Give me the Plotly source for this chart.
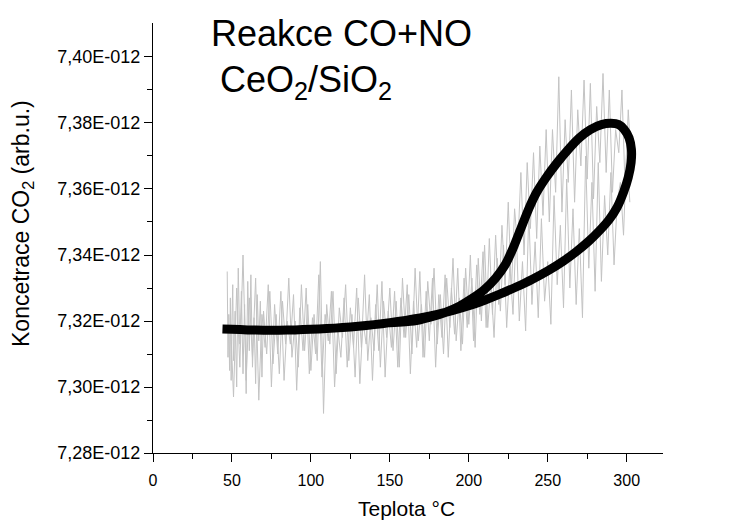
import plotly.graph_objects as go

# ---- data (y values in units of 1E-12) ----
heat_x = [47, 47.5, 48, 48.5, 49, 49.5, 50, 50.5, 51, 52, 53, 54, 55, 56, 57, 58, 59, 60, 61, 62, 63, 64, 65, 66, 67, 68, 69, 70,
          72, 74, 76, 78, 80, 82, 84, 86, 88, 90, 92, 94, 96, 98, 100, 102, 104, 106, 108, 110, 112, 114, 116, 118, 120,
          122, 124, 126, 128, 130, 132, 134, 136, 138, 140, 142, 144, 146, 148, 150, 152, 154, 156, 158, 160, 162, 164,
          166, 168, 170, 172, 174, 176, 178, 180, 182, 184, 186, 188, 190, 192, 194, 196, 198, 200, 202, 204, 206, 208,
          210, 212, 214, 216, 218, 220, 222, 224, 226, 228, 230, 232, 234, 236, 238, 240, 242, 244, 246, 248, 250, 252,
          254, 256, 258, 260, 262, 264, 266, 268, 270, 272, 274, 276, 278, 280, 282, 284, 286, 288, 290, 292, 294,
          296, 298, 300, 302]
heat_y = [7.335, 7.309, 7.322, 7.305, 7.327, 7.302, 7.320, 7.331, 7.308, 7.323, 7.300, 7.336, 7.313, 7.329, 7.304, 7.325,
          7.298, 7.332, 7.311, 7.334, 7.306, 7.321, 7.301, 7.328, 7.314, 7.326, 7.303, 7.323,
          7.310, 7.329, 7.307, 7.322, 7.304, 7.326, 7.313, 7.333, 7.309, 7.320, 7.306, 7.331, 7.311, 7.325, 7.305, 7.322,
          7.308, 7.338, 7.292, 7.325, 7.313, 7.329, 7.304, 7.324, 7.315, 7.331, 7.308, 7.322, 7.303, 7.327, 7.312, 7.334,
          7.308, 7.321, 7.311, 7.331, 7.306, 7.326, 7.315, 7.330, 7.311, 7.326, 7.306, 7.333, 7.315, 7.328, 7.310, 7.336,
          7.314, 7.325, 7.309, 7.332, 7.319, 7.336, 7.313, 7.328, 7.310, 7.333, 7.318, 7.339, 7.314, 7.327, 7.313, 7.336,
          7.319, 7.333, 7.312, 7.339, 7.320, 7.343, 7.318, 7.332, 7.315, 7.339, 7.323, 7.343, 7.318, 7.337, 7.322, 7.348,
          7.320, 7.338, 7.317, 7.353, 7.325, 7.344, 7.321, 7.351, 7.326, 7.338, 7.319, 7.358, 7.331, 7.349, 7.324, 7.363,
          7.330, 7.354, 7.325, 7.348, 7.321, 7.370, 7.336, 7.362, 7.329, 7.368, 7.332, 7.358, 7.340, 7.365, 7.337, 7.356,
          7.362, 7.346, 7.372, 7.356]

cool_x = [303, 301, 299, 297, 295,
          293, 291, 289, 287, 285, 283, 281, 279, 277, 275, 273, 271, 269, 267, 265, 263, 261, 259, 257, 255, 253, 251,
          249, 247, 245, 243, 241, 239, 237, 235, 233, 231, 229, 227, 225, 223, 221, 219, 217, 215, 213, 211, 209, 207,
          205, 203, 201, 199, 197, 195, 193, 191, 189, 187, 185, 183, 181, 179, 177, 175, 173, 171, 169, 167, 165, 163,
          161, 159, 157, 155, 153, 151, 149, 147, 145, 143, 141, 139, 137, 135, 133, 131, 129, 127, 125, 123, 121, 119,
          117, 115, 113, 111, 109, 107, 105, 103, 101, 99, 97, 95, 93, 91, 89, 87, 85, 83, 81, 79, 77, 75, 73, 71, 69,
          67, 65, 63, 61, 59, 57, 55, 53, 51, 49]
cool_y = [7.367, 7.384, 7.360, 7.390, 7.371,
          7.378, 7.359, 7.390, 7.365, 7.395, 7.368, 7.385, 7.357, 7.392, 7.363, 7.393, 7.367, 7.384, 7.356, 7.390, 7.362,
          7.381, 7.353, 7.394, 7.359, 7.378, 7.350,
          7.378, 7.352, 7.373, 7.345, 7.371, 7.348, 7.368, 7.340, 7.365, 7.342,
          7.354, 7.329, 7.356, 7.331, 7.349, 7.325, 7.346, 7.322, 7.345, 7.318, 7.341, 7.322, 7.337, 7.314, 7.340, 7.318,
          7.333, 7.311, 7.336, 7.316, 7.330, 7.309, 7.334, 7.315, 7.328, 7.306, 7.333, 7.314, 7.329, 7.309, 7.335, 7.312,
          7.326, 7.304, 7.331, 7.315, 7.327, 7.306, 7.329, 7.312, 7.323, 7.303, 7.332, 7.311, 7.325, 7.302, 7.328, 7.313,
          7.320, 7.301, 7.330, 7.312, 7.324, 7.306, 7.327, 7.309, 7.318, 7.300, 7.329, 7.314, 7.322, 7.303, 7.334, 7.310,
          7.321, 7.304, 7.330, 7.311, 7.324, 7.299, 7.328, 7.313, 7.320, 7.302, 7.329, 7.310, 7.325, 7.300, 7.331, 7.312,
          7.322, 7.296, 7.333, 7.309, 7.327, 7.302, 7.340, 7.306, 7.330, 7.297, 7.321]

smooth_x = [44, 50, 60, 70, 80, 90, 100, 110, 120, 130, 140, 150, 160, 170, 180, 190, 200, 210, 220, 230, 240, 250, 260,
            268, 276, 283, 289, 294, 298, 301, 302.8, 303, 301.5, 298.5, 295,
            290, 284, 277, 270, 263, 256, 249, 243, 238, 233, 228, 223, 217, 210, 202, 194, 185, 175, 165, 150]
smooth_y = [7.3176, 7.3175, 7.3173, 7.3172, 7.3172, 7.3173, 7.3175, 7.3177, 7.3180, 7.3184, 7.3189, 7.3195, 7.3202,
            7.3210, 7.3220, 7.3232, 7.3246, 7.3263, 7.3282, 7.3303, 7.3326, 7.3352, 7.3382, 7.3410, 7.3442, 7.3475,
            7.3508, 7.3545, 7.3590, 7.3635, 7.3680, 7.3720, 7.3755, 7.3780, 7.3795,
            7.3799, 7.3795, 7.3780, 7.3755, 7.3720, 7.3680, 7.3635, 7.3590, 7.3540, 7.3480, 7.3420, 7.3370, 7.3330,
            7.3296, 7.3268, 7.3245, 7.3226, 7.3211, 7.3200, 7.3195]

y_tick_vals = [7.28, 7.30, 7.32, 7.34, 7.36, 7.38, 7.40]
y_tick_text = ["7,28E-012", "7,30E-012", "7,32E-012", "7,34E-012", "7,36E-012", "7,38E-012", "7,40E-012"]
x_tick_vals = [0, 50, 100, 150, 200, 250, 300]

E = 1e-12
FONT = "Liberation Sans, Arial, sans-serif"

fig = go.Figure()
fig.add_trace(go.Scatter(x=heat_x, y=[v * E for v in heat_y], mode="lines",
                         line=dict(color="#c3c3c3", width=1), showlegend=False, hoverinfo="skip"))
fig.add_trace(go.Scatter(x=cool_x, y=[v * E for v in cool_y], mode="lines",
                         line=dict(color="#c3c3c3", width=1), showlegend=False, hoverinfo="skip"))
fig.add_trace(go.Scatter(x=smooth_x, y=[v * E for v in smooth_y], mode="lines",
                         line=dict(color="black", width=9, shape="spline", smoothing=0.6),
                         showlegend=False))

fig.update_layout(
    width=738, height=521,
    margin=dict(l=153, r=75, t=23, b=68),
    paper_bgcolor="white", plot_bgcolor="white",
    font=dict(family=FONT, color="black"),
)
fig.update_xaxes(
    range=[0, 323], tickvals=x_tick_vals, ticktext=[str(v) for v in x_tick_vals],
    showline=True, linecolor="black", linewidth=1, mirror=False,
    ticks="outside", ticklen=8, tickwidth=1, tickcolor="black",
    minor=dict(tickvals=[25, 75, 125, 175, 225, 275], ticks="outside", ticklen=5, tickcolor="black"),
    showgrid=False, zeroline=False,
    tickfont=dict(size=16, family=FONT), ticklabelstandoff=5,
)
fig.update_yaxes(
    range=[7.28 * E, 7.4103 * E], tickvals=[v * E for v in y_tick_vals], ticktext=y_tick_text,
    showline=True, linecolor="black", linewidth=1, mirror=False,
    ticks="outside", ticklen=8, tickwidth=1, tickcolor="black",
    minor=dict(tickvals=[v * E for v in [7.29, 7.31, 7.33, 7.35, 7.37, 7.39]], ticks="outside", ticklen=5,
               tickcolor="black"),
    showgrid=False, zeroline=False,
    tickfont=dict(size=18, family=FONT),
)

# axis titles
fig.add_annotation(text="Teplota °C", xref="paper", yref="paper", x=0.498, y=-0.128,
                   xanchor="center", yanchor="middle", showarrow=False, font=dict(size=21, family=FONT))
fig.add_annotation(text="Koncetrace CO<sub>2</sub> (arb.u.)", xref="paper", yref="paper", x=-0.2559, y=0.5337,
                   xanchor="center", yanchor="middle", textangle=-90, showarrow=False,
                   font=dict(size=23, family=FONT))

# chart title
fig.add_annotation(text="Reakce CO+NO", xref="paper", yref="paper", x=0.109, y=0.9767,
                   xanchor="left", yanchor="middle", showarrow=False, font=dict(size=36, family=FONT))
fig.add_annotation(text="CeO<sub>2</sub>/SiO<sub>2</sub>", xref="paper", yref="paper", x=0.128, y=0.862,
                   xanchor="left", yanchor="middle", showarrow=False, font=dict(size=36, family=FONT))

fig.write_html("out.html", config={"displayModeBar": False},
               post_script="document.body.style.margin='0';")
